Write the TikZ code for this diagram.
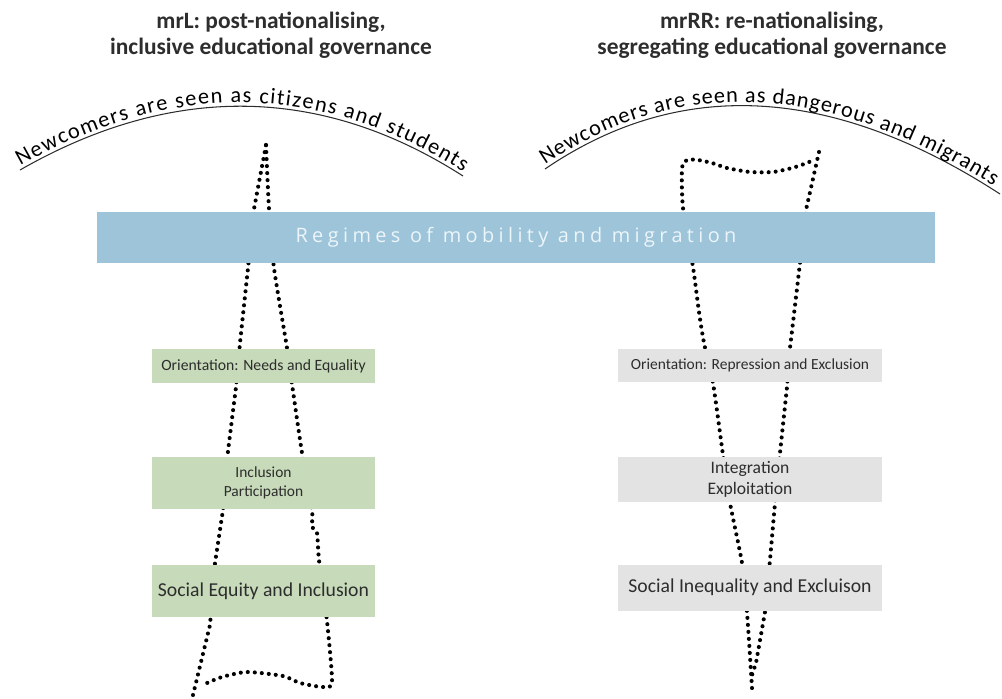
\documentclass[tikz,border=0pt]{standalone}
\usepackage{fontspec}
\setmainfont{Carlito}
\newfontfamily\barfont[LetterSpace=22]{Open Sans}
\usetikzlibrary{decorations.text}

\definecolor{barblue}{RGB}{157,196,216}
\definecolor{boxgreen}{RGB}{199,218,185}
\definecolor{boxgrey}{RGB}{227,227,227}
\definecolor{inkgrey}{RGB}{45,45,45}

\newcommand{\arcfont}{\fontsize{19}{19}\selectfont}

\begin{document}
\begin{tikzpicture}[
                x=0.03cm, y=-0.03cm,
                title/.style={font=\bfseries\fontsize{20}{22}\selectfont, align=center, text=inkgrey},
                greenbox/.style={fill=boxgreen, inner sep=0pt, minimum width=6.69cm, align=center, text=inkgrey},
                greybox/.style={fill=boxgrey, inner sep=0pt, minimum width=7.92cm, align=center, text=inkgrey},
                arctext/.style 2 args={decorate, decoration={text along path, raise=3pt,
                    text align={fit to path, left indent=2pt, right indent=#2}, text={|\arcfont|#1}}},
                dots/.style={line width=3.5pt, dash pattern=on 0pt off 6pt, line cap=round},
                arcline/.style={line width=0.9pt, draw=inkgrey}
            ]
                \useasboundingbox (0,0) rectangle (1002,699);

                % titles
                \node[title] (titleL) at (271,35) {mrL: post-nationalising,\\inclusive educational governance};
                \node[title] (titleR) at (772,35) {mrRR: re-nationalising,\\segregating educational governance};

                % arcs with text
                \draw[arcline, postaction={arctext={Newcomers are seen as citizens and students}{2pt}}]
                    (20,170) .. controls (172,83) and (321,85) .. (463,176);
                \draw[arcline, postaction={arctext={Newcomers are seen as dangerous and migrants}{9pt}}]
                    (545,169) .. controls (680,77) and (832,85) .. (1000,194);

                % dotted funnels
                \draw[dots] (193,695) -- (210,625) -- (215,563) -- (223,510) -- (228,451) -- (236,387)
                    -- (240,343) -- (248,268) -- (254,209) -- (266,145);
                \draw[dots] plot[smooth, tension=0.4] coordinates {(266,145) (269,209) (274,268) (287,348)
                    (292,384) (302,453) (312,510) (312,527) (317,533) (319,560) (327,621) (332,682)
                    (323,687) (300,683) (283,676) (247,672) (222,677) (207,683)};
                \draw[dots] plot[smooth, tension=0.4] coordinates {(752,688) (747,612) (742,563) (730,503)
                    (723,455) (713,383) (704,343) (699,312) (693,267) (683,208) (682,168) (687,160)
                    (698,160) (712,163) (727,168) (750,172) (773,172) (792,168) (807,163) (813,160)};
                \draw[dots] (819,152) -- (806,210) -- (800,263) -- (790,348) -- (787,387) -- (780,453)
                    -- (775,503) -- (770,560) -- (765,612) -- (756,663) -- (752,675);

                % regimes bar
                \node[fill=barblue, minimum width=25.14cm, minimum height=1.53cm, inner sep=0pt,
                    text={rgb,255:red,236;green,245;blue,250}, font=\barfont\fontsize{17}{17}\selectfont]
                    (regime) at (516,237.5) {Regimes of mobility and migration};

                % mrL column
                \node[greenbox, font=\fontsize{13.4}{16}\selectfont, minimum height=1.02cm] (orientL) at (263.5,366) {Orientation: Needs and Equality};
                \node[greenbox, font=\fontsize{13.2}{16}\selectfont, minimum height=1.56cm] (inclL) at (263.5,483) {Inclusion\\Participation};
                \node[greenbox, font=\fontsize{16.8}{18}\selectfont, minimum height=1.56cm] (socialL) at (263.5,591) {Social Equity and Inclusion};

                % mrRR column
                \node[greybox, font=\fontsize{13.2}{16}\selectfont, minimum height=0.99cm] (orientR) at (750,365.5) {Orientation: Repression and Exclusion};
                \node[greybox, font=\fontsize{15}{18}\selectfont, minimum height=1.35cm] (integR) at (750,479.5) {Integration\\Exploitation};
                \node[greybox, font=\fontsize{16.8}{18}\selectfont, minimum height=1.38cm] (socialR) at (750,587.5) {Social Inequality and Excluison};
            \end{tikzpicture}
\end{document}
